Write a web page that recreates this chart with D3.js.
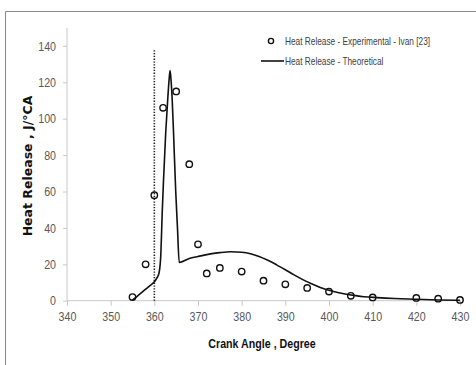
<!DOCTYPE html>
<html>
<head>
<meta charset="utf-8">
<script src="https://cdn.jsdelivr.net/npm/d3@7"></script>
<style>
  html, body { margin: 0; padding: 0; background: #fff; overflow: hidden; }
  svg { display: block; }
</style>
</head>
<body>
<svg id="chart" width="476" height="365"></svg>
<script>
// Experimental heat release points (crank angle, J/°CA)
const expAngle = [355, 358, 360, 362, 365, 368, 370, 372, 375, 380, 385, 390, 395, 400, 405, 410, 420, 425, 430];
const expHeat  = [2, 20, 58, 106, 115, 75, 31, 15, 18, 16, 11, 9, 7, 5, 2.7, 1.8, 1.5, 1.1, 0.4];

// Theoretical heat release curve
const theoAngle = [355, 356, 357, 358, 359, 360, 360.6, 361.1, 361.5, 361.8, 362.1, 362.6, 363.05, 363.4, 363.6,
                   363.8, 364.1, 364.4, 364.9, 365.3, 365.7, 368, 370, 372, 375, 377.5, 380, 382, 384, 386,
                   388, 390, 392, 394, 396, 398, 400, 402, 404, 406, 408, 411, 415, 420, 425, 430];
const theoHeat  = [0.3, 2.3, 4.3, 6.3, 8.3, 10.4, 12.5, 15.5, 26, 48, 66, 92, 110, 122, 126.4,
                   122, 110, 92, 60, 40, 21, 23.2, 24.3, 25.3, 26.4, 26.9, 26.6, 25.8, 24.3, 22.2,
                   19.7, 17, 14.2, 11.6, 9.3, 7.3, 5.7, 4.5, 3.5, 2.8, 2.2, 1.7, 1.2, 0.8, 0.4, 0.2];

const xTicks = [340, 350, 360, 370, 380, 390, 400, 410, 420, 430];
const yTicks = [0, 20, 40, 60, 80, 100, 120, 140];
const tdcAngle = 360;
const tdcTop = 138;

const legendLabels = ["Heat Release - Experimental - Ivan [23]", "Heat Release - Theoretical"];

const svg = d3.select("#chart");

// chart frame (top and left edges)
svg.append("path")
  .attr("d", "M5.5,366 L5.5,11.5 L477,11.5")
  .attr("fill", "none")
  .attr("stroke", "#8a8a8a")
  .attr("stroke-width", 1);

const x = d3.scaleLinear().domain([340, 430]).range([67, 460]);
const y = d3.scaleLinear().domain([0, 150]).range([300.7, 27.7]);

const axisColor = "#c8c8c8";
const labelColor = "#595959";
const sans = "'Liberation Sans', Arial, sans-serif";
const squeeze = 0.82; // condensed look for the Calibri-style labels

// y axis
const yAxis = svg.append("g")
  .attr("transform", `translate(${x(340)},0)`)
  .call(d3.axisLeft(y).tickValues(yTicks).tickSize(4).tickPadding(7).tickFormat(d3.format("d")));
yAxis.select(".domain").attr("stroke", axisColor).attr("d", `M0,${y(150)}V${y(0)}`);
yAxis.selectAll(".tick line").attr("stroke", axisColor);
yAxis.selectAll(".tick text")
  .attr("fill", labelColor)
  .attr("x", -11 / squeeze)
  .attr("transform", `scale(${squeeze},1)`)
  .style("font-family", sans)
  .style("font-size", "13px");

// x axis
const xAxis = svg.append("g")
  .attr("transform", `translate(0,${y(0)})`)
  .call(d3.axisBottom(x).tickValues(xTicks).tickSize(5).tickPadding(6).tickFormat(d3.format("d")));
xAxis.select(".domain").attr("stroke", axisColor).attr("d", `M${x(340)},0H${x(430)}`);
xAxis.selectAll(".tick line").attr("stroke", axisColor);
xAxis.selectAll(".tick text")
  .attr("fill", labelColor)
  .attr("transform", `scale(${squeeze},1)`)
  .style("font-family", sans)
  .style("font-size", "13px");

// axis titles
svg.append("text")
  .attr("transform", `translate(262,348) scale(${squeeze},1)`)
  .attr("text-anchor", "middle")
  .style("font-family", sans)
  .style("font-weight", "bold")
  .style("font-size", "13px")
  .attr("fill", "#111")
  .text("Crank Angle , Degree");

svg.append("text")
  .attr("transform", "translate(32,166) rotate(-90)")
  .attr("text-anchor", "middle")
  .style("font-family", "'DejaVu Sans', sans-serif")
  .style("font-weight", "bold")
  .style("font-size", "12.5px")
  .attr("fill", "#111")
  .text("Heat Release , J/°CA");

// dotted reference line at TDC
svg.append("line")
  .attr("x1", x(tdcAngle)).attr("x2", x(tdcAngle))
  .attr("y1", y(0)).attr("y2", y(tdcTop))
  .attr("stroke", "#222")
  .attr("stroke-width", 1.6)
  .attr("stroke-dasharray", "1.3,1.5");

// theoretical curve
const theo = theoAngle.map((a, i) => [a, theoHeat[i]]);
svg.append("path")
  .datum(theo)
  .attr("fill", "none")
  .attr("stroke", "#111")
  .attr("stroke-width", 1.6)
  .attr("stroke-linejoin", "round")
  .attr("d", d3.line().x(d => x(d[0])).y(d => y(d[1])).curve(d3.curveMonotoneX));

// experimental markers
const exp = expAngle.map((a, i) => [a, expHeat[i]]);
svg.append("g")
  .selectAll("circle")
  .data(exp)
  .join("circle")
  .attr("cx", d => x(d[0]))
  .attr("cy", d => y(d[1]))
  .attr("r", 3.2)
  .attr("fill", "none")
  .attr("stroke", "#111")
  .attr("stroke-width", 1.4);

// legend
const legend = svg.append("g");
legend.append("circle")
  .attr("cx", 271).attr("cy", 41).attr("r", 2.6)
  .attr("fill", "none").attr("stroke", "#111").attr("stroke-width", 1.4);
legend.append("line")
  .attr("x1", 261).attr("x2", 284).attr("y1", 61).attr("y2", 61)
  .attr("stroke", "#111").attr("stroke-width", 1.6);
legend.selectAll("text.lg")
  .data(legendLabels)
  .join("text")
  .attr("class", "lg")
  .attr("transform", (d, i) => `translate(285,${45 + i * 19.5}) scale(0.79,1)`)
  .style("font-family", sans)
  .style("font-size", "10.5px")
  .attr("fill", "#404040")
  .text(d => d);
</script>
</body>
</html>
